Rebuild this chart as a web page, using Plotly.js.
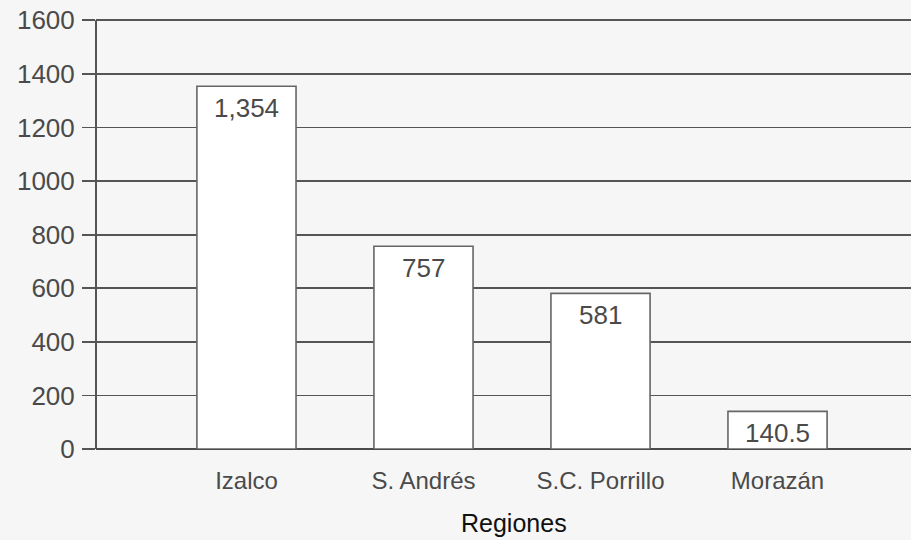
<!DOCTYPE html>
<html>
<head>
<meta charset="utf-8">
<script src="https://cdn.plot.ly/plotly-3.0.1.min.js"></script>
<style>
  html, body { margin: 0; padding: 0; background: #f6f6f6; }
  #chart { width: 911px; height: 540px; }
</style>
</head>
<body>
<div id="chart"></div>
<script>
// Regions and their values
const regiones = ['Izalco', 'S. Andrés', 'S.C. Porrillo', 'Morazán'];
const valores = [1354, 757, 581, 140.5];
const etiquetas = ['1,354', '757', '581', '140.5'];
const yTicks = [0, 200, 400, 600, 800, 1000, 1200, 1400, 1600];

const lineColor = '#555555';
const textColor = '#4a4a4a';
const fontFamily = '"Liberation Sans", Arial, Helvetica, sans-serif';

const trace = {
  type: 'bar',
  x: regiones,
  y: valores,
  marker: { color: '#ffffff', line: { color: '#666666', width: 1.6 } },
  hoverinfo: 'skip'
};

// Value labels placed just below the top of each bar
const annotations = regiones.map((r, i) => ({
  x: r, y: valores[i], xref: 'x', yref: 'y',
  text: etiquetas[i], showarrow: false,
  yanchor: 'middle', yshift: -22,
  font: { family: fontFamily, size: 26, color: textColor }
}));

annotations.push({
  x: 0.513, y: 0, xref: 'paper', yref: 'paper',
  yanchor: 'top', yshift: -58,
  text: 'Regiones', showarrow: false,
  font: { family: fontFamily, size: 25, color: '#111111' }
});

const layout = {
  width: 911, height: 540,
  margin: { l: 96, r: 0, t: 15, b: 91 },
  paper_bgcolor: '#f6f6f6',
  plot_bgcolor: '#f6f6f6',
  showlegend: false,
  bargap: 0.44,
  font: { family: fontFamily, color: textColor },
  xaxis: {
    type: 'category',
    range: [-0.85, 3.754],
    showgrid: false,
    showline: false,
    zeroline: false,
    ticks: 'outside', ticklen: 10, tickcolor: 'rgba(0,0,0,0)',
    tickfont: { family: fontFamily, size: 24, color: textColor },
    fixedrange: true
  },
  yaxis: {
    range: [0, 1620],
    tickvals: yTicks,
    ticktext: yTicks.map(String),
    showgrid: true, gridcolor: lineColor, gridwidth: 1.8,
    zeroline: true, zerolinecolor: '#4a4a4a', zerolinewidth: 2.6,
    showline: false,
    ticks: 'outside', ticklen: 13, tickwidth: 1.8, tickcolor: lineColor,
    ticklabelstandoff: 2,
    tickfont: { family: fontFamily, size: 26, color: textColor },
    fixedrange: true
  },
  // vertical axis line running from 0 up to the top tick
  shapes: [{
    type: 'line', xref: 'paper', yref: 'y',
    x0: 0, x1: 0, y0: yTicks[0], y1: yTicks[yTicks.length - 1],
    line: { color: lineColor, width: 2 }
  }],
  annotations: annotations
};

Plotly.newPlot('chart', [trace], layout, { staticPlot: true, displayModeBar: false });
</script>
</body>
</html>
